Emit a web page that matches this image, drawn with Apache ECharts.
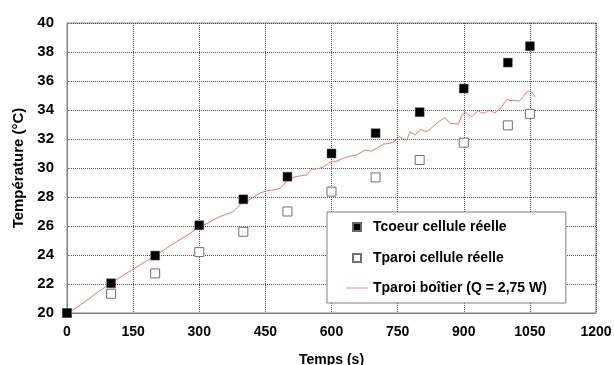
<!DOCTYPE html>
<html>
<head>
<meta charset="utf-8">
<script src="https://cdn.jsdelivr.net/npm/echarts@6/dist/echarts.min.js"></script>
<style>html,body{margin:0;padding:0;background:#fff;}#c{width:614px;height:365px;}</style>
</head>
<body>
<div id="c"></div>
<script>
const xTicks = [0, 150, 300, 450, 600, 750, 900, 1050, 1200];
const yTicks = [20, 22, 24, 26, 28, 30, 32, 34, 36, 38, 40];
const seriesNames = ['Tcoeur cellule réelle', 'Tparoi cellule réelle', 'Tparoi boîtier (Q = 2,75 W)'];
const tMeas = [0, 100, 200, 300, 400, 500, 600, 700, 800, 900, 1000, 1050];
const tCoeur = [20.0, 22.05, 23.96, 26.05, 27.84, 29.4, 31.0, 32.4, 33.85, 35.48, 37.27, 38.4];
const tParoi = [20.0, 21.33, 22.73, 24.2, 25.6, 27.0, 28.37, 29.35, 30.55, 31.75, 32.94, 33.74];
const boitierT = [0,15,30,52,75,100,125,150,175,200,225,249,275,300,320,332,347,362,377,396,410,423,440,453,470,483,498,513,528,544,555,570,582,597,610,627,640,657,668,676,691,705,718,732,744,754,762,771,778,790,801,816,828,839,848,858,869,880,888,896,903,910,918,925,933,941,949,955,960,971,979,986,992,998,1005,1013,1026,1033,1039,1045,1051,1057,1062];
const boitierV = [20.0,20.25,20.55,21.03,21.55,22.05,22.55,23.03,23.5,23.95,24.45,24.93,25.4,25.95,26.2,26.42,26.65,26.8,27.0,27.57,27.75,28.0,28.3,28.42,28.5,28.6,29.06,29.36,29.45,29.52,29.9,29.95,30.09,30.4,30.45,30.67,30.8,30.9,31.1,31.24,31.17,31.4,31.65,31.7,31.86,32.16,32.0,31.93,32.5,32.27,32.66,32.5,32.8,33.08,33.3,33.46,33.08,33.05,33.03,33.65,33.85,33.7,33.53,33.75,33.95,33.8,33.8,33.95,33.95,33.8,34.0,34.22,34.5,34.73,34.65,34.68,34.61,34.85,35.09,35.3,35.32,35.14,34.91];

const font = 'Liberation Sans, Arial, sans-serif';
const sq = 'path://M0,0M14,14M3,3H11V11H3Z';
const ln = 'path://M0,0M22,14M0,6.5H22V7.5H0Z';
const chart = echarts.init(document.getElementById('c'), null, {renderer: 'canvas'});
chart.setOption({
  animation: false,
  backgroundColor: '#fff',
  grid: {left: 67, right: 18, top: 23, bottom: 52, containLabel: false, outerBoundsMode: 'none', show: true, borderColor: '#808080', borderWidth: 1, backgroundColor: 'transparent'},
  xAxis: {
    type: 'value', min: xTicks[0], max: xTicks[xTicks.length - 1], interval: 150,
    name: 'Temps (s)', nameLocation: 'middle', nameGap: 40,
    nameTextStyle: {fontFamily: font, fontWeight: 'bold', fontSize: 14, color: '#000'},
    axisLine: {show: true, lineStyle: {color: '#808080'}},
    axisTick: {show: false},
    axisLabel: {fontFamily: font, fontWeight: 'bold', fontSize: 14, color: '#000', margin: 12, formatter: v => String(v)},
    splitLine: {show: true, lineStyle: {type: 'dotted', color: '#555', width: 1}}
  },
  yAxis: {
    type: 'value', min: yTicks[0], max: yTicks[yTicks.length - 1], interval: 2,
    name: 'Température (°C)', nameLocation: 'middle', nameGap: 37, nameRotate: 90,
    nameTextStyle: {fontFamily: font, fontWeight: 'bold', fontSize: 15, color: '#000'},
    axisLine: {show: true, lineStyle: {color: '#808080'}},
    axisTick: {show: true, inside: true, length: 3, lineStyle: {color: '#808080'}},
    axisLabel: {fontFamily: font, fontWeight: 'bold', fontSize: 15, color: '#000', margin: 13, formatter: v => String(v)},
    splitLine: {show: true, lineStyle: {type: 'dotted', color: '#555', width: 1}}
  },
  legend: {
    orient: 'vertical', left: 327, top: 212,
    backgroundColor: '#fff', borderColor: '#808080', borderWidth: 1,
    padding: [7, 19, 8, 19], itemGap: 15, itemWidth: 22, itemHeight: 14,
    symbolKeepAspect: true,
    textStyle: {fontFamily: font, fontWeight: 'bold', fontSize: 14, color: '#000'},
    data: [
      {name: seriesNames[0], icon: sq},
      {name: seriesNames[1], icon: sq},
      {name: seriesNames[2], icon: ln, itemStyle: {color: '#ff8080', borderWidth: 0}}
    ]
  },
  series: [
    {
      name: seriesNames[2], type: 'line', symbol: 'none', showSymbol: false,
      data: boitierT.map((t, i) => [t, boitierV[i]]),
      lineStyle: {color: '#ff7070', width: 1}, itemStyle: {color: '#ff8080'}, z: 2
    },
    {
      name: seriesNames[1], type: 'scatter', symbol: 'rect', symbolSize: 9,
      data: tMeas.map((t, i) => [t, tParoi[i]]),
      itemStyle: {color: '#fff', borderColor: '#707070', borderWidth: 1, opacity: 1}, z: 3
    },
    {
      name: seriesNames[0], type: 'scatter', symbol: 'rect', symbolSize: 9,
      data: tMeas.map((t, i) => [t, tCoeur[i]]),
      itemStyle: {color: '#000', borderColor: '#666', borderWidth: 0.5, opacity: 1}, z: 4
    }
  ]
});
</script>
</body>
</html>
